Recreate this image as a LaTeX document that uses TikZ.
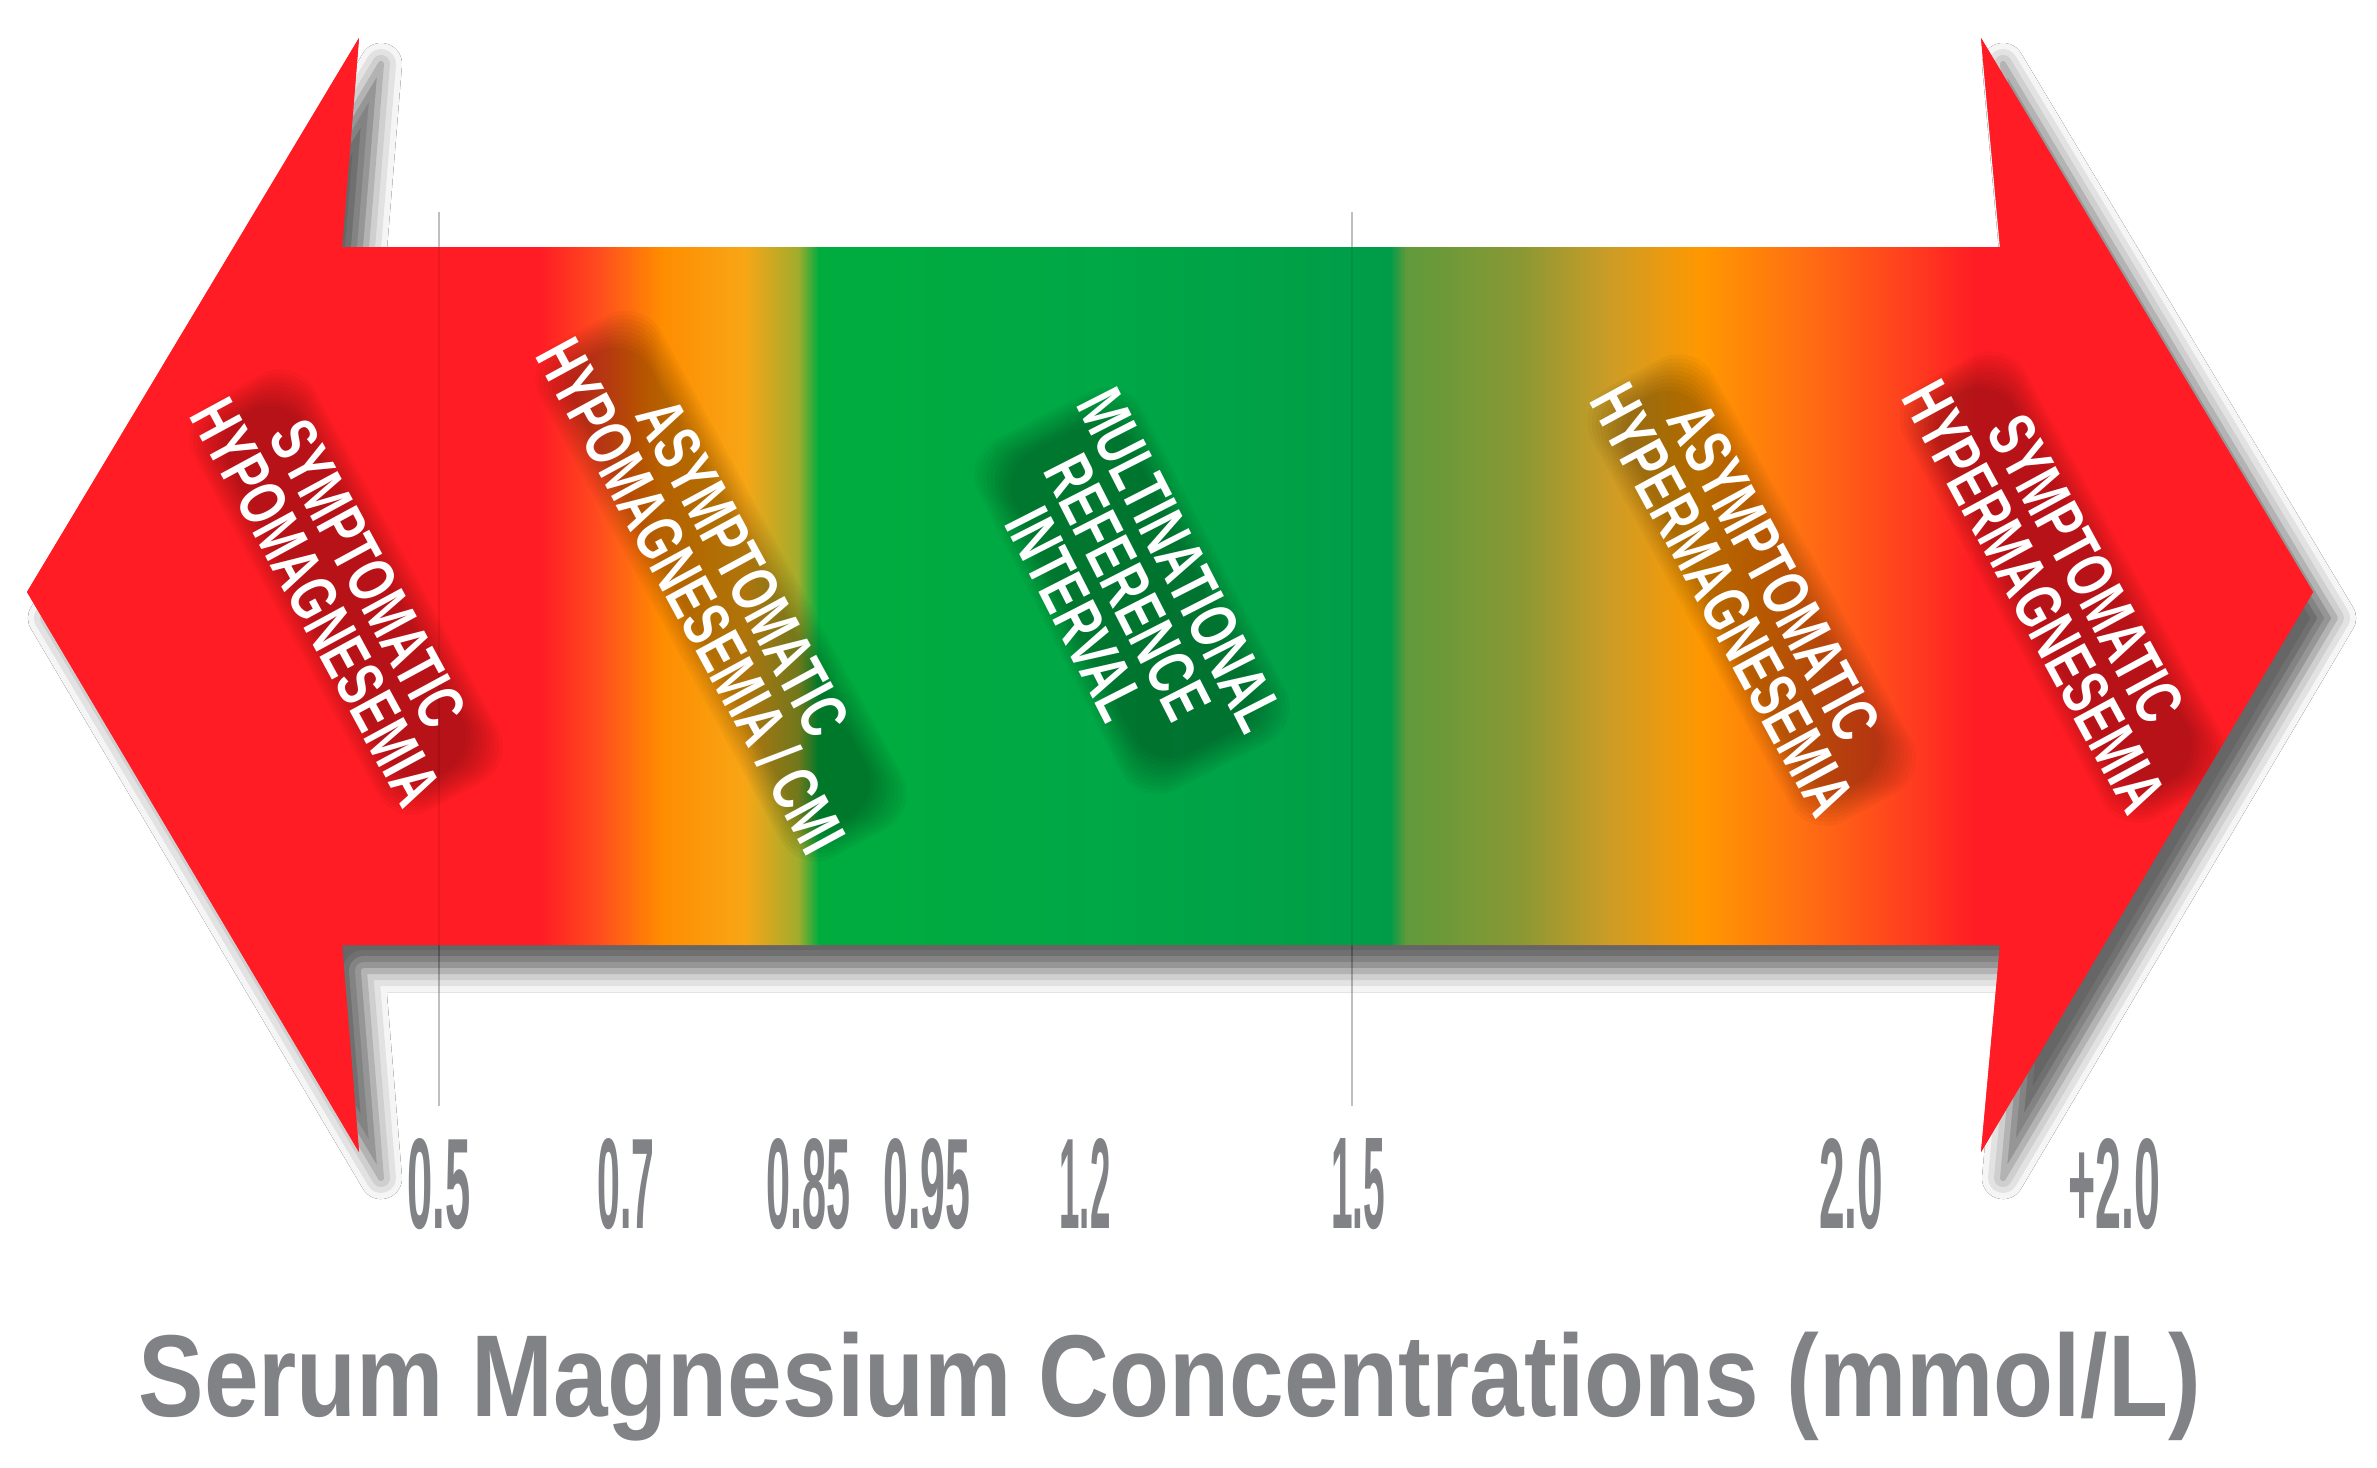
\documentclass[tikz,border=0pt]{standalone}
\usepackage{fontspec}
\usetikzlibrary{shadows.blur}
\newfontfamily\labfont[FakeStretch=0.70]{Liberation Sans}
\newfontfamily\numfont{Liberation Sans}
\definecolor{mgred}{RGB}{255,28,36}
\definecolor{axisgray}{RGB}{128,130,134}
\definecolor{sA}{RGB}{255,28,36}
\definecolor{sB}{RGB}{255,78,30}
\definecolor{sC}{RGB}{255,140,0}
\definecolor{sD}{RGB}{247,166,22}
\definecolor{sE}{RGB}{160,172,45}
\definecolor{sF}{RGB}{0,172,62}
\definecolor{sG}{RGB}{0,168,70}
\definecolor{sH}{RGB}{0,156,72}
\definecolor{sI}{RGB}{95,154,60}
\definecolor{sJ}{RGB}{138,152,52}
\definecolor{sK}{RGB}{205,156,38}
\definecolor{sL}{RGB}{255,152,0}
\definecolor{sM}{RGB}{255,112,18}
\definecolor{sN}{RGB}{255,66,30}
\tikzset{
  arrowbody/.style={fill=mgred, blur shadow={shadow xshift=2.2mm, shadow yshift=-2.6mm, shadow blur radius=2.1mm, shadow opacity=60}},
  zonelabel/.style={text=white, align=center, inner sep=0pt,
    font=\labfont\bfseries\fontsize{18.8pt}{16.8pt}\selectfont},
  glowpatch/.style={fill=black, opacity=0.03, rounded corners=4mm},
  ticklabel/.style={inner sep=0pt, anchor=base, text=axisgray, font=\numfont\bfseries},
  guide/.style={draw=black, draw opacity=0.25, line width=0.2mm}
}
% soft dark patch behind a label: x, y, angle, half length, half thickness
\newcommand{\zoneglow}[5]{%
  \begin{scope}[shift={(#1,#2)}, rotate=#3]
    \foreach \k in {0,...,9}{%
      \pgfmathsetmacro\ww{#4+3*\k}%
      \pgfmathsetmacro\hh{#5+3*\k}%
      \fill[glowpatch] (-\ww,-\hh) rectangle (\ww,\hh);
    }
  \end{scope}}
\begin{document}
\begin{tikzpicture}[x=0.1mm, y=-0.1mm]
\useasboundingbox (0,0) rectangle (2377,1467);
\fill[white] (0,0) rectangle (2377,1467);
% guide lines (behind the arrow)
\coordinate (g1t) at (439,212); \coordinate (g1b) at (439,1106);
\coordinate (g2t) at (1352,212); \coordinate (g2b) at (1352,1106);
\draw[guide] (g1t) -- (g1b);
\draw[guide] (g2t) -- (g2b);
% arrow outline points
\coordinate (tipL) at (27,592);
\coordinate (hLt) at (359,38);
\coordinate (sLt) at (342,247);
\coordinate (sRt) at (2000,247);
\coordinate (hRt) at (1981,38);
\coordinate (tipR) at (2313,592);
\coordinate (hRb) at (1981,1152);
\coordinate (sRb) at (2000,945);
\coordinate (sLb) at (342,945);
\coordinate (hLb) at (359,1152);
\def\arrowpath{(tipL) -- (hLt) -- (sLt) -- (sRt) -- (hRt) -- (tipR) -- (hRb) -- (sRb) -- (sLb) -- (hLb) -- cycle}
\path[arrowbody] \arrowpath;
\begin{scope}
  \clip \arrowpath;
  \foreach \xa/\ca/\xb/\cb in {20/sA/540/sA, 540/sA/600/sB, 600/sB/660/sC, 660/sC/745/sD,
      745/sD/798/sE, 798/sE/818/sF, 818/sF/1100/sG, 1100/sG/1390/sH, 1390/sH/1405/sI,
      1405/sI/1520/sJ, 1520/sJ/1610/sK, 1610/sK/1700/sL, 1700/sL/1800/sM, 1800/sM/1900/sN,
      1900/sN/1975/sA, 1975/sA/2330/sA}
    \shade[left color=\ca, right color=\cb] (\xa,30) rectangle (\xb+1,1160);
  % faint guide lines seen through the arrow
  \draw[guide, draw opacity=0.08] (g1t) -- (g1b);
  \draw[guide, draw opacity=0.08] (g2t) -- (g2b);
  % soft dark glows behind the labels
  \zoneglow{346}{592}{-61.5}{205}{42}
  \zoneglow{721}{586}{-61.5}{265}{42}
  \zoneglow{1132}{591}{-63}{170}{65}
  \zoneglow{1752}{590}{-61.5}{220}{42}
  \zoneglow{2064}{587}{-61.5}{220}{42}
\end{scope}
% zone labels
\node[zonelabel, rotate=-61.5] (symhypo) at (342,588) {SYMPTOMATIC\\HYPOMAGNESEMIA};
\node[zonelabel, rotate=-61.5] (asyhypo) at (717,582) {ASYMPTOMATIC\\HYPOMAGNESEMIA / CMI};
\node[zonelabel, rotate=-63] (refint) at (1128,587) {MULTINATIONAL\\REFERENCE\\INTERVAL};
\node[zonelabel, rotate=-61.5] (asyhyper) at (1748,586) {ASYMPTOMATIC\\HYPERMAGNESEMIA};
\node[zonelabel, rotate=-61.5] (symhyper) at (2060,583) {SYMPTOMATIC\\HYPERMAGNESEMIA};
% tick labels
\node[ticklabel] (t1) at (439,1228) {\resizebox{6.3mm}{9mm}{0.5}};
\node[ticklabel] (t2) at (626,1228) {\resizebox{5.7mm}{9mm}{0.7}};
\node[ticklabel] (t3) at (808,1228) {\resizebox{8.4mm}{9mm}{0.85}};
\node[ticklabel] (t4) at (927,1228) {\resizebox{8.7mm}{9mm}{0.95}};
\node[ticklabel] (t5) at (1085,1228) {\resizebox{5.1mm}{9mm}{1.2}};
\node[ticklabel] (t6) at (1358,1228) {\resizebox{5.4mm}{9mm}{1.5}};
\node[ticklabel] (t7) at (1851,1228) {\resizebox{6.4mm}{9mm}{2.0}};
\node[ticklabel] (t8) at (2114,1228) {\resizebox{9.2mm}{9mm}{+2.0}};
% title
\node[anchor=base west, inner sep=0pt, text=axisgray] (title) at (138,1416)
  {\resizebox{206.2mm}{8.44mm}{\numfont\bfseries Serum Magnesium Concentrations (mmol/L)}};
\end{tikzpicture}
\end{document}
